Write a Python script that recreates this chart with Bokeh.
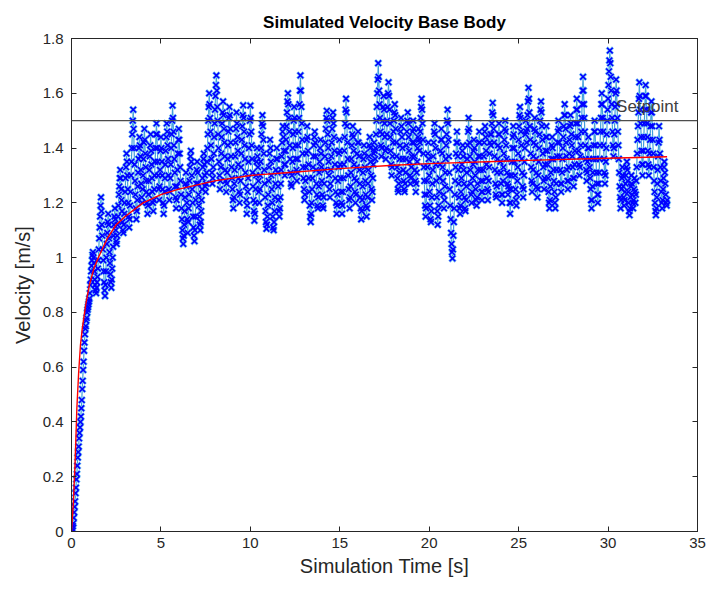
from bokeh.plotting import figure
from bokeh.models import (Range1d, FixedTicker, LinearAxis, Span, Label, ColumnDataSource,
                          CustomLabelingPolicy)
from bokeh.embed import file_html
from bokeh.resources import INLINE

# ---------------- data ----------------
title_text = "Simulated Velocity Base Body"
x_label = "Simulation Time [s]"
y_label = "Velocity [m/s]"
setpoint = 1.5
setpoint_label = "Setpoint"

x_ticks = [0, 5, 10, 15, 20, 25, 30, 35]
y_ticks = [0, 0.2, 0.4, 0.6, 0.8, 1.0, 1.2, 1.4, 1.6, 1.8]
y_tick_labels = ["0", "0.2", "0.4", "0.6", "0.8", "1", "1.2", "1.4", "1.6", "1.8"]

sample_step = 0.025  # seconds between samples

velocity = [
    # 0 - 1 s (rise)
    0.00, 0.00, 0.01, 0.02, 0.03, 0.05, 0.07, 0.09, 0.11, 0.14,
    0.16, 0.19, 0.21, 0.24, 0.27, 0.29, 0.31, 0.34, 0.36, 0.38,
    0.40, 0.42, 0.45, 0.48, 0.52, 0.55, 0.59, 0.62, 0.66, 0.69,
    0.72, 0.74, 0.75, 0.77, 0.78, 0.80, 0.81, 0.82, 0.83, 0.84,
    # 1.0 - 3.0 s
    0.85, 0.87, 0.90, 0.92, 0.95, 0.97, 0.99, 1.01, 1.02, 1.00,
    0.98, 0.95, 0.92, 0.90, 0.88, 0.87, 0.89, 0.91, 0.93, 0.96,
    0.99, 1.03, 1.07, 1.11, 1.15, 1.19, 1.22, 1.17, 1.12, 1.08,
    1.03, 0.99, 0.95, 0.91, 0.88, 0.86, 0.90, 0.95, 1.00, 1.05,
    1.09, 1.13, 1.16, 1.12, 1.07, 1.02, 0.98, 0.94, 0.91, 0.89,
    0.92, 0.96, 1.00, 1.04, 1.08, 1.12, 1.15, 1.18, 1.14, 1.10,
    1.06, 1.05, 1.08, 1.12, 1.15, 1.19, 1.23, 1.26, 1.29, 1.32,
    1.29, 1.25, 1.21, 1.17, 1.13, 1.10, 1.09, 1.12, 1.16, 1.20,
    # 3.0 - 5.0 s
    1.24, 1.29, 1.33, 1.38, 1.35, 1.30, 1.25, 1.20, 1.15, 1.11,
    1.14, 1.19, 1.24, 1.30, 1.35, 1.40, 1.45, 1.50, 1.54, 1.47,
    1.40, 1.34, 1.28, 1.23, 1.18, 1.14, 1.17, 1.21, 1.26, 1.31,
    1.36, 1.40, 1.44, 1.41, 1.37, 1.32, 1.27, 1.22, 1.20, 1.25,
    1.30, 1.36, 1.42, 1.47, 1.43, 1.38, 1.33, 1.28, 1.24, 1.20,
    1.16, 1.19, 1.23, 1.28, 1.32, 1.37, 1.41, 1.45, 1.39, 1.34,
    1.29, 1.24, 1.20, 1.17, 1.21, 1.25, 1.30, 1.35, 1.40, 1.45,
    1.49, 1.45, 1.40, 1.35, 1.30, 1.25, 1.21, 1.26, 1.32, 1.39,
    # 5.0 - 7.0 s
    1.44, 1.40, 1.35, 1.30, 1.25, 1.20, 1.16, 1.19, 1.24, 1.29,
    1.34, 1.39, 1.44, 1.49, 1.46, 1.41, 1.36, 1.30, 1.25, 1.21,
    1.24, 1.29, 1.34, 1.40, 1.45, 1.50, 1.555, 1.51, 1.46, 1.41,
    1.36, 1.31, 1.26, 1.22, 1.18, 1.21, 1.26, 1.32, 1.38, 1.43,
    1.47, 1.43, 1.38, 1.33, 1.28, 1.23, 1.18, 1.14, 1.10, 1.07,
    1.05, 1.08, 1.12, 1.17, 1.22, 1.27, 1.31, 1.26, 1.20, 1.14,
    1.09, 1.13, 1.18, 1.23, 1.28, 1.33, 1.37, 1.39, 1.35, 1.30,
    1.25, 1.20, 1.15, 1.11, 1.08, 1.06, 1.10, 1.15, 1.21, 1.27,
    # 7.0 - 9.0 s
    1.32, 1.35, 1.31, 1.27, 1.23, 1.19, 1.15, 1.12, 1.10, 1.13,
    1.17, 1.21, 1.25, 1.29, 1.33, 1.36, 1.38, 1.34, 1.30, 1.26,
    1.24, 1.27, 1.31, 1.35, 1.40, 1.45, 1.50, 1.55, 1.60, 1.56,
    1.51, 1.46, 1.41, 1.36, 1.31, 1.27, 1.29, 1.33, 1.38, 1.44,
    1.49, 1.54, 1.59, 1.63, 1.665, 1.61, 1.55, 1.50, 1.45, 1.40,
    1.35, 1.30, 1.25, 1.28, 1.33, 1.38, 1.44, 1.49, 1.53, 1.57,
    1.52, 1.47, 1.42, 1.37, 1.32, 1.28, 1.24, 1.27, 1.31, 1.36,
    1.41, 1.46, 1.51, 1.55, 1.52, 1.47, 1.42, 1.37, 1.33, 1.29,
    # 9.0 - 11.0 s
    1.25, 1.21, 1.18, 1.22, 1.27, 1.32, 1.37, 1.42, 1.47, 1.53,
    1.49, 1.44, 1.39, 1.34, 1.29, 1.24, 1.20, 1.23, 1.28, 1.33,
    1.38, 1.43, 1.48, 1.52, 1.556, 1.51, 1.46, 1.41, 1.36, 1.31,
    1.26, 1.21, 1.16, 1.19, 1.24, 1.29, 1.35, 1.40, 1.45, 1.50,
    1.555, 1.51, 1.46, 1.41, 1.36, 1.31, 1.26, 1.21, 1.17, 1.135,
    1.16, 1.20, 1.25, 1.30, 1.35, 1.40, 1.37, 1.33, 1.28, 1.24,
    1.20, 1.25, 1.30, 1.35, 1.40, 1.45, 1.49, 1.52, 1.48, 1.43,
    1.38, 1.32, 1.27, 1.22, 1.17, 1.13, 1.105, 1.12, 1.15, 1.19,
    # 11.0 - 13.0 s
    1.23, 1.28, 1.33, 1.38, 1.43, 1.40, 1.35, 1.30, 1.25, 1.20,
    1.15, 1.11, 1.10, 1.13, 1.17, 1.22, 1.27, 1.32, 1.36, 1.40,
    1.36, 1.31, 1.26, 1.21, 1.17, 1.15, 1.18, 1.22, 1.27, 1.32,
    1.37, 1.42, 1.46, 1.48, 1.44, 1.39, 1.34, 1.30, 1.34, 1.39,
    1.43, 1.48, 1.53, 1.57, 1.60, 1.56, 1.51, 1.46, 1.41, 1.36,
    1.31, 1.27, 1.26, 1.30, 1.35, 1.40, 1.45, 1.50, 1.55, 1.51,
    1.46, 1.41, 1.36, 1.32, 1.28, 1.31, 1.36, 1.41, 1.46, 1.51,
    1.56, 1.61, 1.665, 1.61, 1.55, 1.49, 1.43, 1.38, 1.33, 1.29,
    # 13.0 - 15.0 s
    1.25, 1.21, 1.23, 1.28, 1.33, 1.38, 1.43, 1.48, 1.44, 1.39,
    1.34, 1.29, 1.24, 1.19, 1.15, 1.13, 1.16, 1.20, 1.25, 1.29,
    1.33, 1.37, 1.41, 1.44, 1.46, 1.42, 1.37, 1.32, 1.27, 1.23,
    1.19, 1.18, 1.22, 1.26, 1.31, 1.35, 1.40, 1.43, 1.38, 1.33,
    1.28, 1.23, 1.19, 1.18, 1.22, 1.27, 1.32, 1.37, 1.42, 1.47,
    1.51, 1.536, 1.50, 1.45, 1.40, 1.35, 1.30, 1.25, 1.22, 1.27,
    1.32, 1.37, 1.42, 1.47, 1.51, 1.53, 1.49, 1.44, 1.39, 1.34,
    1.29, 1.24, 1.20, 1.16, 1.19, 1.23, 1.28, 1.33, 1.38, 1.43,
    # 15.0 - 17.0 s
    1.39, 1.34, 1.29, 1.24, 1.20, 1.16, 1.19, 1.24, 1.29, 1.34,
    1.39, 1.44, 1.49, 1.54, 1.58, 1.53, 1.48, 1.42, 1.36, 1.30,
    1.25, 1.21, 1.18, 1.22, 1.26, 1.31, 1.36, 1.41, 1.45, 1.48,
    1.44, 1.39, 1.34, 1.29, 1.24, 1.20, 1.23, 1.28, 1.33, 1.38,
    1.42, 1.46, 1.42, 1.37, 1.32, 1.27, 1.22, 1.18, 1.14, 1.17,
    1.21, 1.26, 1.31, 1.36, 1.41, 1.38, 1.33, 1.28, 1.23, 1.19,
    1.15, 1.18, 1.22, 1.27, 1.32, 1.37, 1.41, 1.44, 1.40, 1.35,
    1.30, 1.25, 1.21, 1.24, 1.29, 1.34, 1.38, 1.42, 1.39, 1.36,
    # 17.0 - 19.0 s
    1.40, 1.45, 1.50, 1.55, 1.60, 1.65, 1.71, 1.66, 1.61, 1.56,
    1.51, 1.46, 1.41, 1.37, 1.40, 1.45, 1.50, 1.55, 1.59, 1.54,
    1.49, 1.44, 1.39, 1.36, 1.40, 1.45, 1.50, 1.55, 1.60, 1.64,
    1.59, 1.54, 1.49, 1.44, 1.39, 1.34, 1.30, 1.33, 1.37, 1.42,
    1.46, 1.50, 1.53, 1.56, 1.52, 1.47, 1.42, 1.37, 1.33, 1.29,
    1.25, 1.24, 1.27, 1.31, 1.36, 1.41, 1.46, 1.51, 1.48, 1.44,
    1.40, 1.36, 1.32, 1.28, 1.25, 1.24, 1.27, 1.31, 1.36, 1.41,
    1.46, 1.50, 1.53, 1.49, 1.44, 1.39, 1.35, 1.30, 1.27, 1.29,
    # 19.0 - 21.0 s
    1.33, 1.37, 1.42, 1.46, 1.50, 1.47, 1.42, 1.37, 1.32, 1.28,
    1.24, 1.27, 1.31, 1.35, 1.40, 1.44, 1.47, 1.43, 1.39, 1.42,
    1.46, 1.51, 1.55, 1.58, 1.54, 1.49, 1.43, 1.38, 1.33, 1.28,
    1.23, 1.19, 1.15, 1.18, 1.23, 1.28, 1.33, 1.38, 1.42, 1.36,
    1.30, 1.24, 1.19, 1.14, 1.13, 1.17, 1.22, 1.27, 1.32, 1.37,
    1.42, 1.46, 1.49, 1.45, 1.40, 1.34, 1.28, 1.22, 1.17, 1.12,
    1.15, 1.19, 1.24, 1.29, 1.34, 1.39, 1.43, 1.47, 1.43, 1.38,
    1.33, 1.28, 1.23, 1.18, 1.21, 1.26, 1.31, 1.36, 1.41, 1.45,
    # 21.0 - 23.0 s
    1.50, 1.54, 1.49, 1.43, 1.37, 1.31, 1.25, 1.19, 1.14, 1.09,
    1.05, 1.02, 0.997, 1.03, 1.08, 1.13, 1.18, 1.23, 1.28, 1.33,
    1.38, 1.42, 1.46, 1.42, 1.37, 1.32, 1.27, 1.22, 1.18, 1.16,
    1.19, 1.24, 1.29, 1.34, 1.39, 1.41, 1.37, 1.32, 1.27, 1.22,
    1.18, 1.17, 1.21, 1.26, 1.31, 1.36, 1.41, 1.46, 1.51, 1.47,
    1.42, 1.37, 1.32, 1.27, 1.23, 1.20, 1.24, 1.29, 1.34, 1.39,
    1.43, 1.40, 1.35, 1.30, 1.25, 1.21, 1.19, 1.22, 1.27, 1.32,
    1.37, 1.42, 1.46, 1.42, 1.37, 1.32, 1.28, 1.24, 1.21, 1.24,
    # 23.0 - 25.0 s
    1.28, 1.32, 1.37, 1.42, 1.46, 1.48, 1.44, 1.39, 1.34, 1.29,
    1.25, 1.21, 1.24, 1.28, 1.33, 1.38, 1.42, 1.45, 1.41, 1.45,
    1.49, 1.53, 1.565, 1.52, 1.47, 1.42, 1.37, 1.32, 1.27, 1.23,
    1.22, 1.26, 1.31, 1.36, 1.41, 1.45, 1.49, 1.45, 1.40, 1.35,
    1.31, 1.27, 1.23, 1.20, 1.23, 1.28, 1.33, 1.38, 1.43, 1.47,
    1.50, 1.46, 1.41, 1.36, 1.31, 1.27, 1.23, 1.26, 1.30, 1.25,
    1.20, 1.16, 1.20, 1.25, 1.30, 1.35, 1.40, 1.44, 1.48, 1.45,
    1.40, 1.35, 1.30, 1.25, 1.21, 1.19, 1.23, 1.28, 1.33, 1.38,
    # 25.0 - 27.0 s
    1.43, 1.48, 1.52, 1.55, 1.51, 1.46, 1.41, 1.36, 1.31, 1.26,
    1.22, 1.25, 1.30, 1.35, 1.40, 1.45, 1.50, 1.46, 1.42, 1.47,
    1.52, 1.57, 1.62, 1.58, 1.53, 1.48, 1.43, 1.38, 1.33, 1.28,
    1.24, 1.27, 1.32, 1.37, 1.42, 1.47, 1.51, 1.46, 1.41, 1.36,
    1.31, 1.26, 1.22, 1.25, 1.30, 1.35, 1.40, 1.45, 1.50, 1.54,
    1.57, 1.53, 1.48, 1.43, 1.38, 1.33, 1.28, 1.25, 1.29, 1.34,
    1.39, 1.44, 1.48, 1.44, 1.39, 1.34, 1.29, 1.24, 1.20, 1.18,
    1.21, 1.26, 1.31, 1.36, 1.41, 1.44, 1.40, 1.36, 1.32, 1.28,
    # 27.0 - 29.0 s
    1.24, 1.20, 1.18, 1.22, 1.27, 1.32, 1.37, 1.42, 1.46, 1.50,
    1.47, 1.42, 1.37, 1.32, 1.27, 1.24, 1.27, 1.31, 1.36, 1.40,
    1.44, 1.48, 1.52, 1.56, 1.52, 1.47, 1.42, 1.37, 1.32, 1.28,
    1.25, 1.28, 1.33, 1.38, 1.43, 1.48, 1.52, 1.49, 1.45, 1.41,
    1.37, 1.33, 1.29, 1.26, 1.29, 1.34, 1.39, 1.44, 1.49, 1.54,
    1.58, 1.54, 1.49, 1.44, 1.39, 1.34, 1.30, 1.33, 1.37, 1.41,
    1.46, 1.51, 1.56, 1.61, 1.66, 1.61, 1.56, 1.51, 1.46, 1.41,
    1.36, 1.32, 1.28, 1.31, 1.35, 1.40, 1.44, 1.40, 1.36, 1.33,
    # 29.0 - 31.0 s
    1.29, 1.25, 1.21, 1.18, 1.21, 1.26, 1.31, 1.36, 1.41, 1.46,
    1.50, 1.46, 1.41, 1.36, 1.31, 1.27, 1.23, 1.20, 1.23, 1.27,
    1.31, 1.36, 1.41, 1.46, 1.51, 1.56, 1.60, 1.56, 1.51, 1.46,
    1.41, 1.36, 1.31, 1.27, 1.30, 1.35, 1.40, 1.45, 1.50, 1.54,
    1.58, 1.63, 1.68, 1.72, 1.756, 1.71, 1.66, 1.61, 1.56, 1.51,
    1.46, 1.41, 1.37, 1.40, 1.45, 1.50, 1.55, 1.60, 1.65, 1.61,
    1.56, 1.51, 1.46, 1.41, 1.36, 1.31, 1.26, 1.22, 1.18, 1.21,
    1.25, 1.29, 1.33, 1.30, 1.26, 1.22, 1.19, 1.21, 1.24, 1.27,
    # 31.0 - 33.0 s
    1.30, 1.33, 1.35, 1.32, 1.28, 1.24, 1.20, 1.17, 1.155, 1.18,
    1.22, 1.26, 1.30, 1.27, 1.23, 1.20, 1.18, 1.21, 1.25, 1.29,
    1.24, 1.20, 1.23, 1.28, 1.33, 1.38, 1.43, 1.48, 1.53, 1.58,
    1.64, 1.59, 1.54, 1.49, 1.44, 1.39, 1.34, 1.30, 1.34, 1.39,
    1.44, 1.49, 1.54, 1.59, 1.63, 1.59, 1.54, 1.49, 1.44, 1.39,
    1.34, 1.30, 1.33, 1.38, 1.43, 1.48, 1.53, 1.57, 1.53, 1.48,
    1.43, 1.38, 1.33, 1.28, 1.24, 1.20, 1.17, 1.155, 1.18, 1.22,
    1.27, 1.32, 1.37, 1.42, 1.48, 1.43, 1.38, 1.33, 1.28, 1.24,
    # 33.0 - 33.3 s
    1.20, 1.18, 1.21, 1.25, 1.29, 1.33, 1.35, 1.31, 1.27, 1.23,
    1.20, 1.19, 1.21,
]
time_s = [round(i * sample_step, 3) for i in range(len(velocity))]

# red fitted curve, read at selected times
fit_t = [0, 0.1, 0.2, 0.3, 0.4, 0.5, 0.6, 0.8, 1.0, 1.25, 1.5, 2.0, 2.5, 3.0,
         4.0, 5.0, 6.0, 8.0, 10.0, 12.0, 15.0, 18.0, 20.0, 25.0, 30.0, 33.3]
fit_v = [0.0, 0.10, 0.25, 0.45, 0.58, 0.68, 0.74, 0.83, 0.90, 0.96, 1.00, 1.07, 1.12, 1.15,
         1.20, 1.23, 1.25, 1.28, 1.30, 1.31, 1.325, 1.337, 1.343, 1.354, 1.363, 1.368]

# ---------------- figure ----------------
FONT = "Liberation Sans"
AX = "#262626"

p = figure(width=708, height=590, output_backend="svg", toolbar_location=None,
           x_range=Range1d(0, 35), y_range=Range1d(0, 1.8),
           min_border_left=71, min_border_right=11, min_border_top=38, min_border_bottom=59,
           background_fill_color="white", border_fill_color="white")
p.outline_line_color = AX
p.grid.visible = False

p.title.text = title_text
p.title.align = "center"
p.title.text_font = FONT
p.title.text_font_size = "17px"
p.title.text_font_style = "bold"
p.title.text_color = "black"
p.title.standoff = 6

for ax in (p.xaxis[0], p.yaxis[0]):
    ax.axis_line_color = AX
    ax.major_tick_line_color = AX
    ax.major_tick_in = 5
    ax.major_tick_out = 0
    ax.minor_tick_line_color = None
    ax.major_label_text_font = FONT
    ax.major_label_text_font_size = "15px"
    ax.major_label_text_color = AX
    ax.axis_label_text_font = FONT
    ax.axis_label_text_font_size = "20px"
    ax.axis_label_text_font_style = "normal"
    ax.axis_label_text_color = AX

p.xaxis[0].ticker = FixedTicker(ticks=x_ticks)
p.yaxis[0].ticker = FixedTicker(ticks=y_ticks)
p.yaxis[0].major_label_overrides = {t: l for t, l in zip(y_ticks, y_tick_labels)}
p.xaxis[0].axis_label = x_label
p.yaxis[0].axis_label = y_label
p.xaxis[0].major_label_standoff = 6
p.yaxis[0].major_label_standoff = 8
p.xaxis[0].axis_label_standoff = 4
p.yaxis[0].axis_label_standoff = 6

# box ticks on top and right, without labels
top_ax = LinearAxis(ticker=FixedTicker(ticks=x_ticks))
right_ax = LinearAxis(ticker=FixedTicker(ticks=y_ticks))
for ax in (top_ax, right_ax):
    ax.axis_line_color = AX
    ax.major_tick_line_color = AX
    ax.major_tick_in = 5
    ax.major_tick_out = 0
    ax.minor_tick_line_color = None
    ax.major_label_policy = CustomLabelingPolicy(code="return []")
    ax.major_label_text_font_size = "1px"
    ax.major_label_standoff = 0
p.add_layout(top_ax, "above")
p.add_layout(right_ax, "right")

src = ColumnDataSource(data=dict(t=time_s, v=velocity))
p.line("t", "v", source=src, line_color="#3f9fdc", line_width=1.2)
p.scatter("t", "v", source=src, marker="x", size=9, line_color="#7fc8f2", line_width=3.0)
p.scatter("t", "v", source=src, marker="x", size=8, line_color="#0000ff", line_width=1.6)

p.line(fit_t, fit_v, line_color="#ff0000", line_width=1.4)

p.add_layout(Span(location=setpoint, dimension="width", line_color="#4d4d4d", line_width=1.2))
p.add_layout(Label(x=30.45, y=setpoint + 0.05, text=setpoint_label, text_font=FONT,
                   text_font_size="17px", text_color="#404040", text_baseline="middle"))

open("out.html", "w").write(file_html(p, INLINE))
